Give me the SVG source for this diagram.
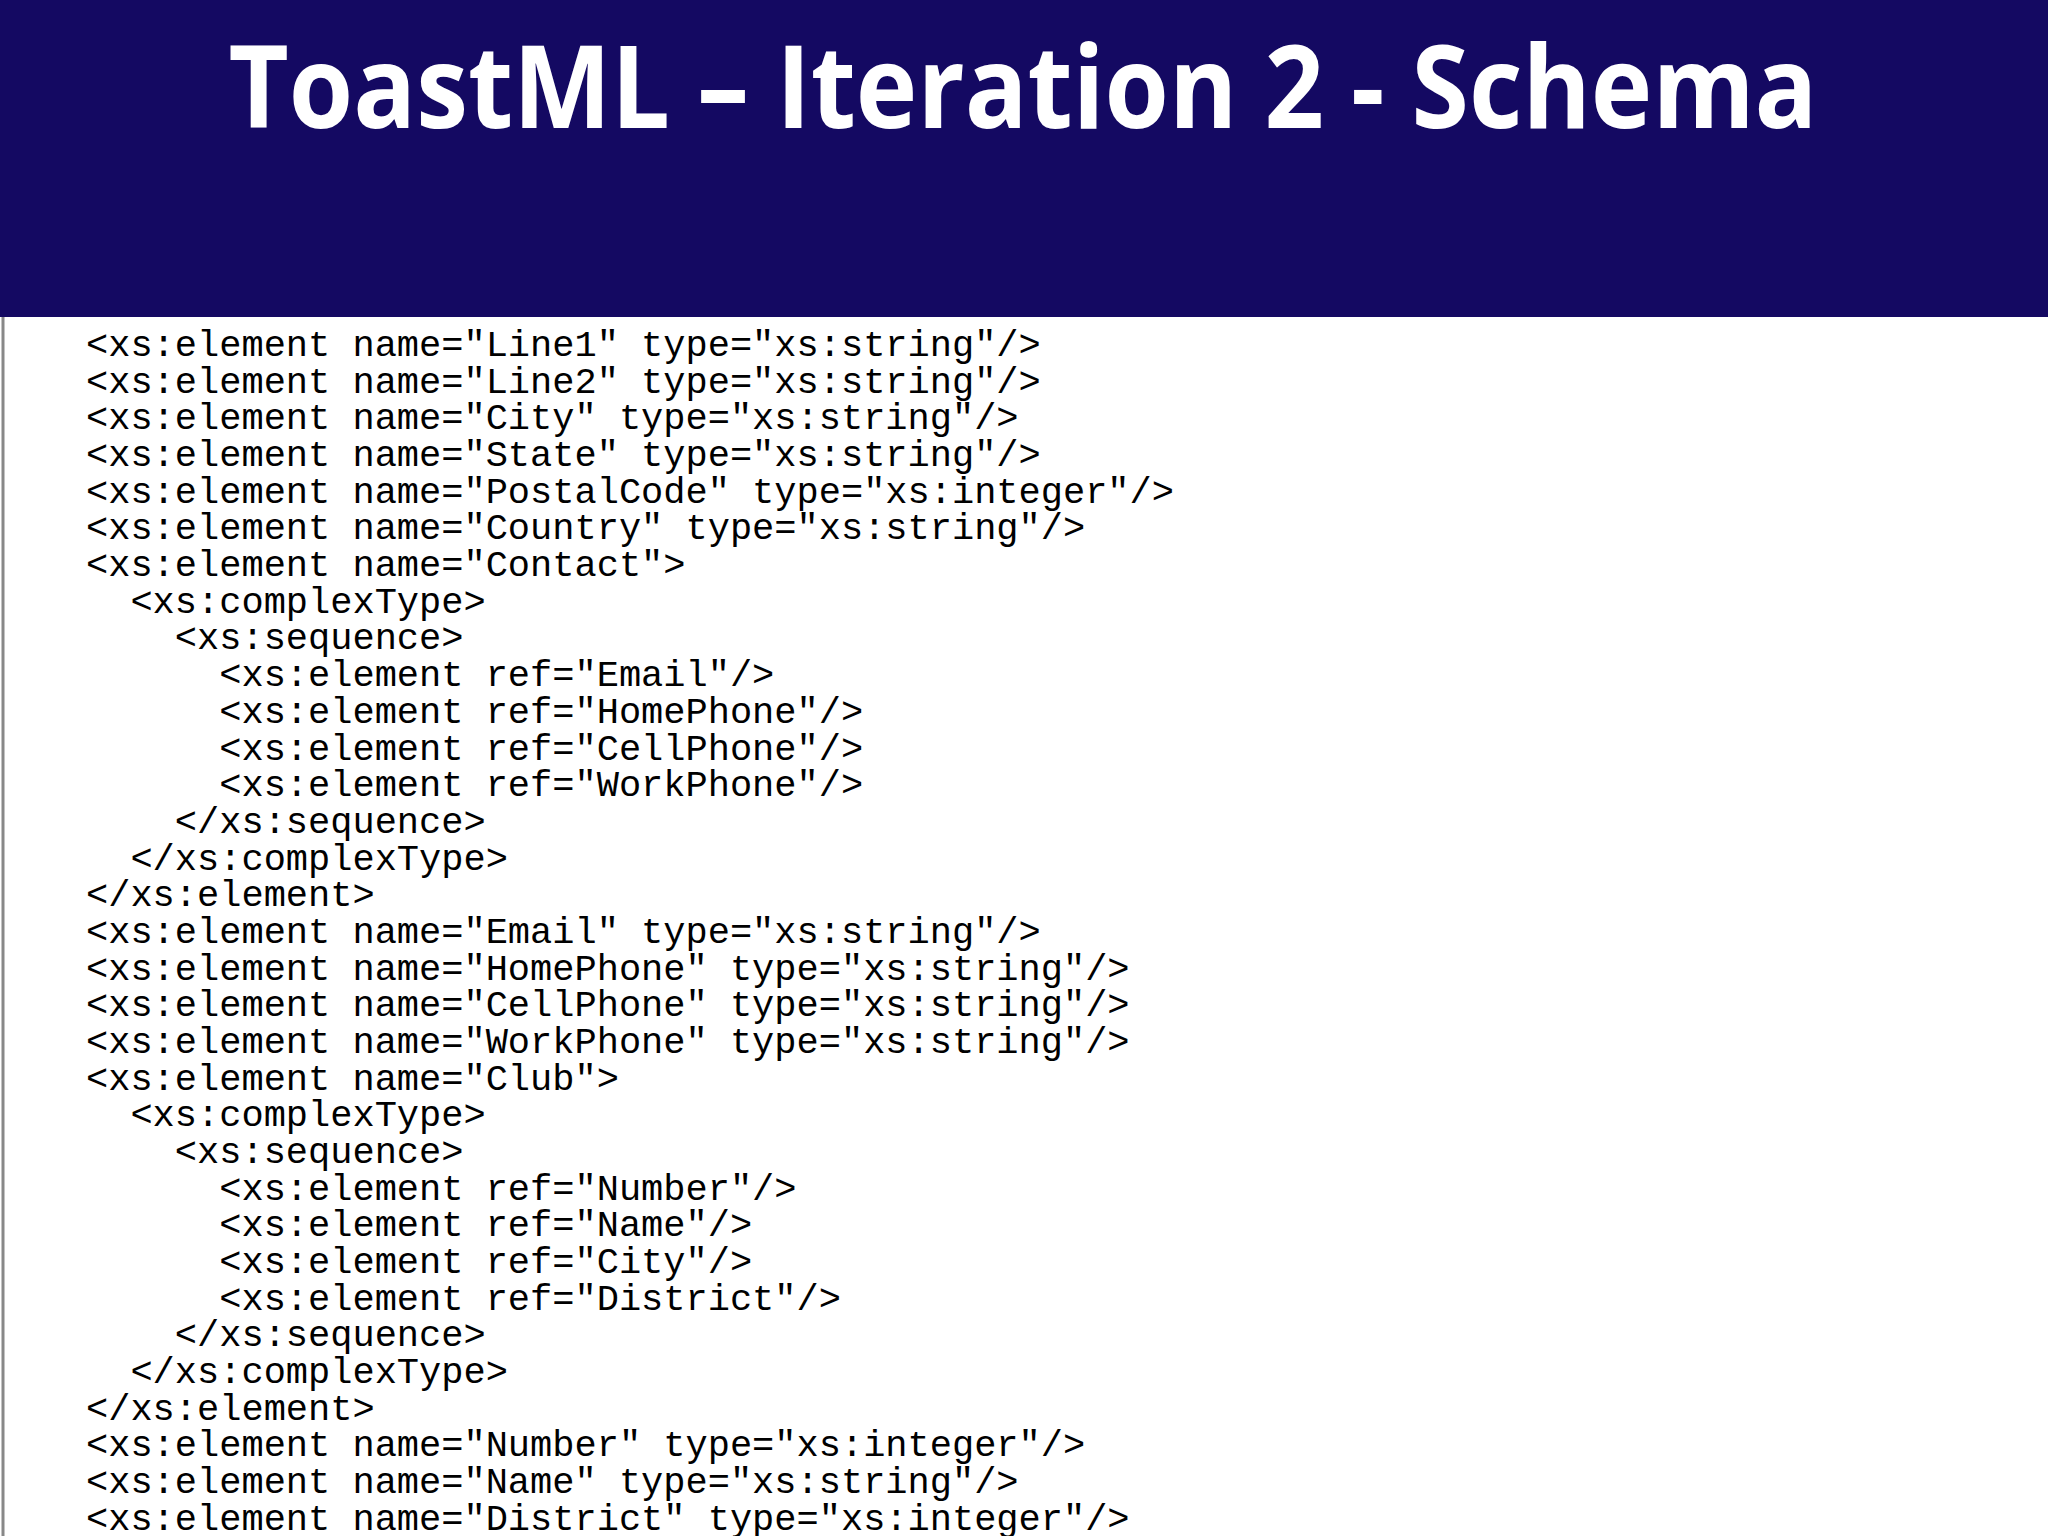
<svg xmlns="http://www.w3.org/2000/svg" width="2048" height="1536" viewBox="0 0 2048 1536">
<style>
.c{font-family:"Liberation Mono","DejaVu Sans Mono",monospace;font-size:37px;fill:#000;white-space:pre}
.t{font-family:"Open Sans","Liberation Sans",sans-serif;font-weight:bold;font-size:115px;fill:#fff}
</style>
<rect width="2048" height="1536" fill="#fff"/>
<g id="header">
<rect x="0" y="0" width="2048" height="317" fill="#140962"/>
<text class="t" x="1023" y="128" text-anchor="middle" textLength="1589" lengthAdjust="spacingAndGlyphs">ToastML – Iteration 2 - Schema</text>
</g>
<line x1="3" y1="317" x2="3" y2="1536" stroke="#888" stroke-width="3"/>
<g id="code">
<text class="c" x="86" y="356">&lt;xs:element name="Line1" type="xs:string"/&gt;</text>
<text class="c" x="86" y="393">&lt;xs:element name="Line2" type="xs:string"/&gt;</text>
<text class="c" x="86" y="429">&lt;xs:element name="City" type="xs:string"/&gt;</text>
<text class="c" x="86" y="466">&lt;xs:element name="State" type="xs:string"/&gt;</text>
<text class="c" x="86" y="503">&lt;xs:element name="PostalCode" type="xs:integer"/&gt;</text>
<text class="c" x="86" y="539">&lt;xs:element name="Country" type="xs:string"/&gt;</text>
<text class="c" x="86" y="576">&lt;xs:element name="Contact"&gt;</text>
<text class="c" x="86" y="613">  &lt;xs:complexType&gt;</text>
<text class="c" x="86" y="649">    &lt;xs:sequence&gt;</text>
<text class="c" x="86" y="686">      &lt;xs:element ref="Email"/&gt;</text>
<text class="c" x="86" y="723">      &lt;xs:element ref="HomePhone"/&gt;</text>
<text class="c" x="86" y="760">      &lt;xs:element ref="CellPhone"/&gt;</text>
<text class="c" x="86" y="796">      &lt;xs:element ref="WorkPhone"/&gt;</text>
<text class="c" x="86" y="833">    &lt;/xs:sequence&gt;</text>
<text class="c" x="86" y="870">  &lt;/xs:complexType&gt;</text>
<text class="c" x="86" y="906">&lt;/xs:element&gt;</text>
<text class="c" x="86" y="943">&lt;xs:element name="Email" type="xs:string"/&gt;</text>
<text class="c" x="86" y="980">&lt;xs:element name="HomePhone" type="xs:string"/&gt;</text>
<text class="c" x="86" y="1016">&lt;xs:element name="CellPhone" type="xs:string"/&gt;</text>
<text class="c" x="86" y="1053">&lt;xs:element name="WorkPhone" type="xs:string"/&gt;</text>
<text class="c" x="86" y="1090">&lt;xs:element name="Club"&gt;</text>
<text class="c" x="86" y="1126">  &lt;xs:complexType&gt;</text>
<text class="c" x="86" y="1163">    &lt;xs:sequence&gt;</text>
<text class="c" x="86" y="1200">      &lt;xs:element ref="Number"/&gt;</text>
<text class="c" x="86" y="1236">      &lt;xs:element ref="Name"/&gt;</text>
<text class="c" x="86" y="1273">      &lt;xs:element ref="City"/&gt;</text>
<text class="c" x="86" y="1310">      &lt;xs:element ref="District"/&gt;</text>
<text class="c" x="86" y="1346">    &lt;/xs:sequence&gt;</text>
<text class="c" x="86" y="1383">  &lt;/xs:complexType&gt;</text>
<text class="c" x="86" y="1420">&lt;/xs:element&gt;</text>
<text class="c" x="86" y="1456">&lt;xs:element name="Number" type="xs:integer"/&gt;</text>
<text class="c" x="86" y="1493">&lt;xs:element name="Name" type="xs:string"/&gt;</text>
<text class="c" x="86" y="1530">&lt;xs:element name="District" type="xs:integer"/&gt;</text>
</g>
</svg>
